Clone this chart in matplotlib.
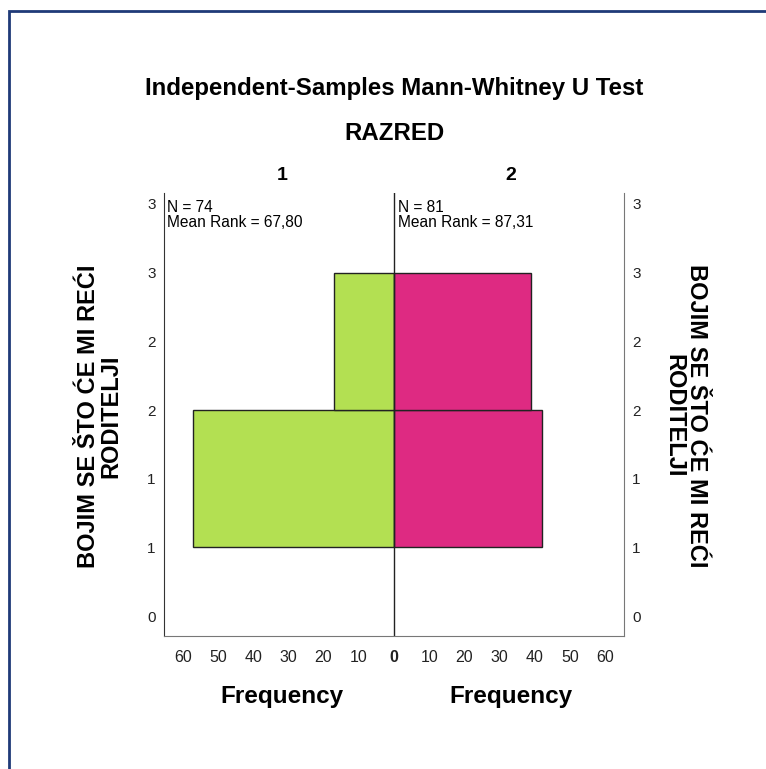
import matplotlib
matplotlib.use("Agg")
import matplotlib.pyplot as plt
from matplotlib.patches import Rectangle

plt.rcParams['font.family'] = ['Liberation Sans', 'DejaVu Sans']

# histogram bins (value ranges) and frequencies per group
bin_edges = [1, 2, 3]
freq_group1 = [57, 17]
freq_group2 = [42, 39]
groups = ["1", "2"]
group_n = [74, 81]
mean_rank = ["67,80", "87,31"]
y_ticks = [0.5, 1.0, 1.5, 2.0, 2.5, 3.0, 3.5]
x_ticks = [-60, -50, -40, -30, -20, -10, 0, 10, 20, 30, 40, 50, 60]
var_label = "BOJIM SE ŠTO ĆE MI REĆI\nRODITELJI"

green = "#B3E052"
magenta = "#DE2A82"

fig = plt.figure(figsize=(7.66, 7.69), dpi=100)
W, H = 766, 769

def fx(px):
    return px / W

def fy(py):
    return 1 - py / H

# outer frame (cut at right/bottom like the screenshot)
fig.patches.append(Rectangle((fx(8.5), fy(790)), 2, fy(10.5) - fy(790),
                             transform=fig.transFigure, fill=False,
                             edgecolor="#1F3A78", linewidth=2))

ax = fig.add_axes([fx(164), fy(636), fx(624) - fx(164), fy(193) - fy(636)])

for i in range(len(freq_group1)):
    lo, hi = bin_edges[i], bin_edges[i + 1]
    ax.barh(lo, -freq_group1[i], height=hi - lo, align="edge",
            color=green, edgecolor="#222222", linewidth=1)
    ax.barh(lo, freq_group2[i], height=hi - lo, align="edge",
            color=magenta, edgecolor="#222222", linewidth=1)

ax.axvline(0, color="#222222", linewidth=1)
ax.set_xlim(-65.3, 65.3)
ax.set_ylim(0.355, 3.58)

ax.set_yticks(y_ticks)
ax.set_yticklabels([str(int(v)) for v in y_ticks], fontsize=11)
ax.tick_params(axis="y", length=0, pad=6, labelright=True, right=False,
               labelcolor="#222222")
ax.set_xticks(x_ticks)
ax.set_xticklabels([str(abs(v)) for v in x_ticks], fontsize=11.5)
ax.tick_params(axis="x", length=0, pad=10, labelcolor="#222222")
for lbl in ax.get_xticklabels():
    if lbl.get_text() == "0":
        lbl.set_fontweight("bold")

ax.spines["top"].set_visible(False)
ax.spines["left"].set_color("#333333")
ax.spines["right"].set_color("#777777")
ax.spines["bottom"].set_color("#777777")

# group stats text
ax.text(fx(167), fy(215), f"N = {group_n[0]}\nMean Rank = {mean_rank[0]}",
        transform=fig.transFigure, fontsize=11.2, va="center", ha="left",
        linespacing=0.95)
ax.text(fx(398), fy(215), f"N = {group_n[1]}\nMean Rank = {mean_rank[1]}",
        transform=fig.transFigure, fontsize=11.2, va="center", ha="left",
        linespacing=0.95)

fig.text(fx(394), fy(88), "Independent-Samples Mann-Whitney U Test",
         ha="center", va="center", fontsize=17.3, fontweight="bold")
fig.text(fx(394), fy(133), "RAZRED", ha="center", va="center",
         fontsize=17.3, fontweight="bold")
fig.text(fx(282), fy(176), groups[0], ha="center", va="center",
         fontsize=14, fontweight="bold")
fig.text(fx(511), fy(176), groups[1], ha="center", va="center",
         fontsize=14, fontweight="bold")
fig.text(fx(282), fy(697), "Frequency", ha="center", va="center",
         fontsize=17.5, fontweight="bold")
fig.text(fx(511), fy(697), "Frequency", ha="center", va="center",
         fontsize=17.5, fontweight="bold")

fig.text(fx(100), fy(416), var_label, ha="center", va="center",
         rotation=90, fontsize=17, fontweight="bold", linespacing=0.95)
fig.text(fx(685), fy(416), var_label, ha="center", va="center",
         rotation=270, fontsize=17, fontweight="bold", linespacing=0.95)

fig.savefig("out.png", dpi=100)
